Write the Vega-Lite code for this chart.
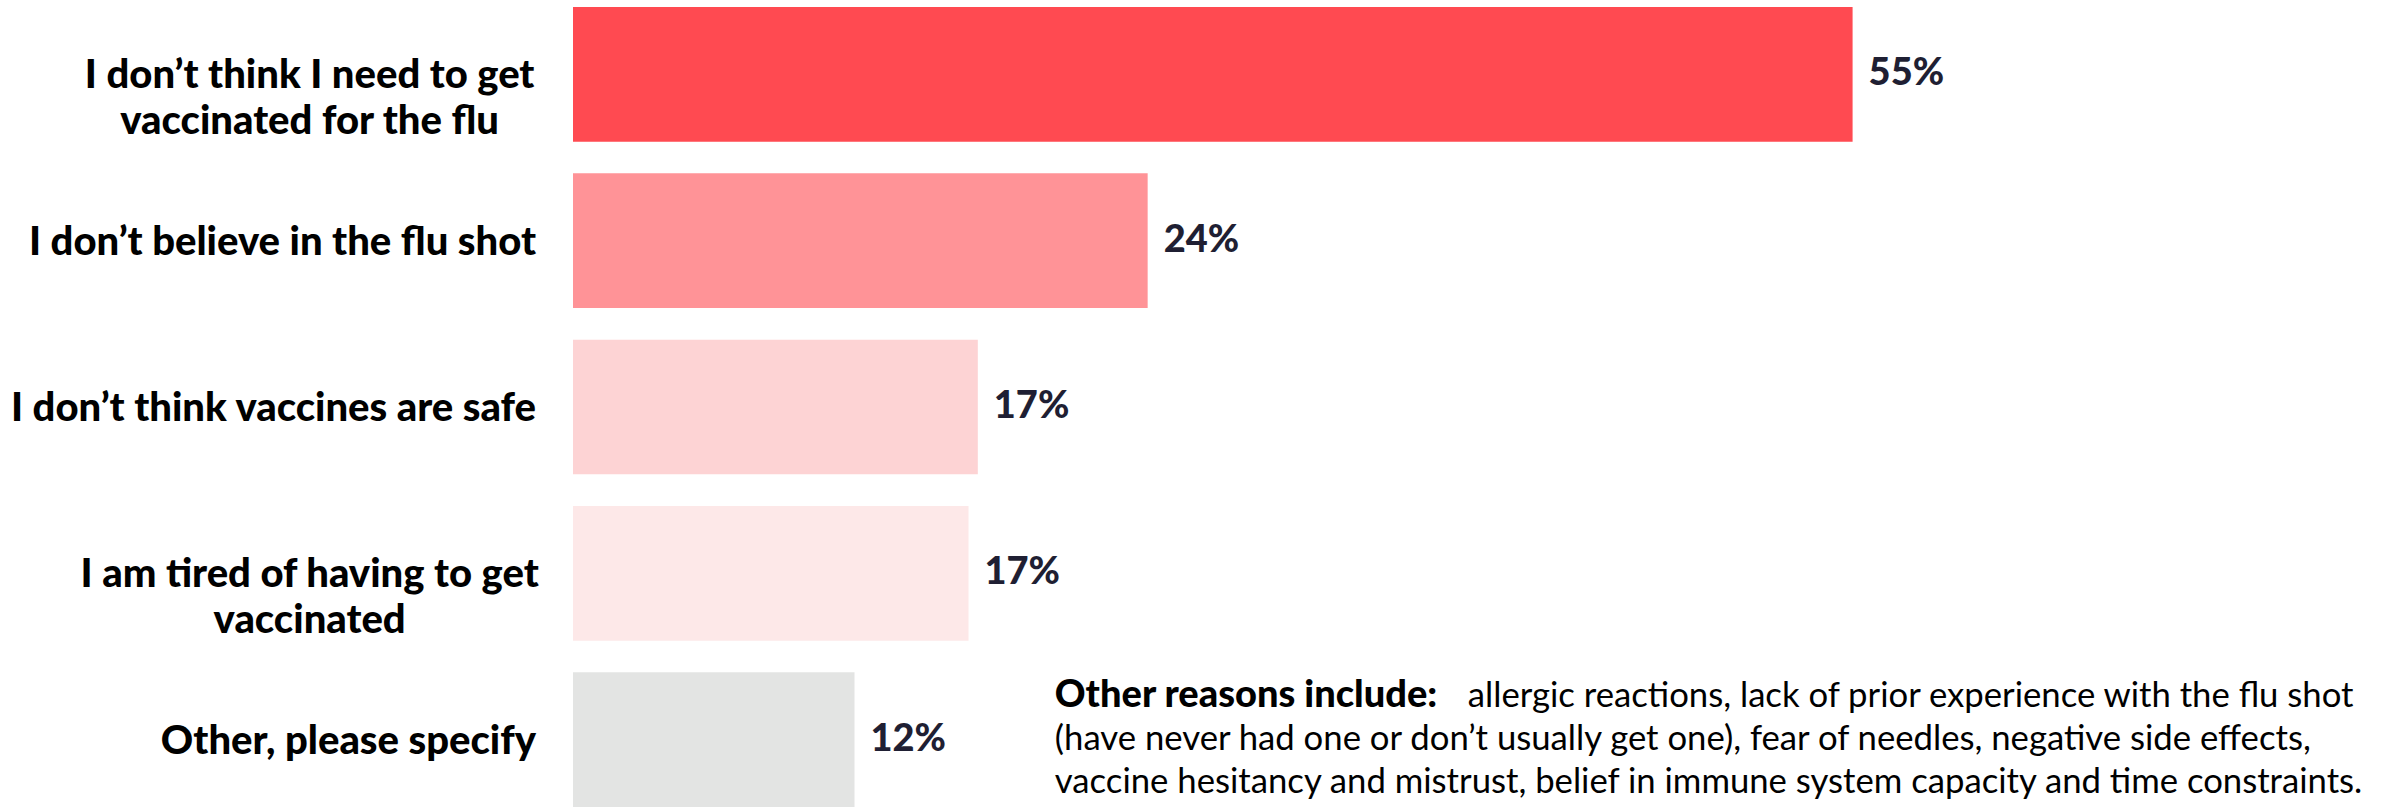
{
  "$schema": "https://vega.github.io/schema/vega-lite/v6.json",
  "width": 1824,
  "height": 800,
  "autosize": {"type": "none"},
  "padding": {"left": 573, "top": 7, "right": 0, "bottom": 0},
  "background": "white",
  "config": {"view": {"stroke": null}, "font": "Lato"},
  "data": {
    "values": [
      {"reason": "I don’t think I need to get vaccinated for the flu", "label": ["I don’t think I need to get", "vaccinated for the flu"], "value": 55, "pct": "55%"},
      {"reason": "I don’t believe in the flu shot", "label": "I don’t believe in the flu shot", "value": 24.7, "pct": "24%"},
      {"reason": "I don’t think vaccines are safe", "label": "I don’t think vaccines are safe", "value": 17.4, "pct": "17%"},
      {"reason": "I am tired of having to get vaccinated", "label": ["I am tired of having to get", "vaccinated"], "value": 17.0, "pct": "17%"},
      {"reason": "Other, please specify", "label": "Other, please specify", "value": 12.1, "pct": "12%"}
    ]
  },
  "encoding": {
    "y": {
      "field": "reason",
      "type": "nominal",
      "axis": null,
      "scale": {
        "domain": ["I don’t think I need to get vaccinated for the flu", "I don’t believe in the flu shot", "I don’t think vaccines are safe", "I am tired of having to get vaccinated", "Other, please specify"],
        "paddingInner": 0.19,
        "paddingOuter": 0
      }
    }
  },
  "layer": [
    {
      "mark": {"type": "bar"},
      "encoding": {
        "x": {"field": "value", "type": "quantitative", "axis": null, "scale": {"domain": [0, 78.4], "nice": false}},
        "color": {
          "field": "reason",
          "type": "nominal",
          "legend": null,
          "scale": {
            "domain": ["I don’t think I need to get vaccinated for the flu", "I don’t believe in the flu shot", "I don’t think vaccines are safe", "I am tired of having to get vaccinated", "Other, please specify"],
            "range": ["#FF4A51", "#FF9397", "#FDD3D4", "#FDE8E8", "#E3E4E3"]
          }
        }
      }
    },
    {
      "mark": {"type": "text", "align": "left", "baseline": "middle", "dx": 16, "fontSize": 38, "fontWeight": 900, "color": "#1f1f33"},
      "encoding": {
        "x": {"field": "value", "type": "quantitative"},
        "text": {"field": "pct", "type": "nominal"}
      }
    },
    {
      "transform": [{"filter": "!isArray(datum.label)"}],
      "mark": {"type": "text", "align": "right", "baseline": "middle", "dy": 2, "fontSize": 40, "fontWeight": 900, "color": "#000000"},
      "encoding": {
        "x": {"datum": -1.59},
        "text": {"field": "label", "type": "nominal"}
      }
    },
    {
      "transform": [{"filter": "isArray(datum.label)"}],
      "mark": {"type": "text", "align": "center", "baseline": "middle", "dy": 2, "lineHeight": 46, "fontSize": 40, "fontWeight": 900, "color": "#000000"},
      "encoding": {
        "x": {"datum": -11.32},
        "text": {"field": "label", "type": "nominal"}
      }
    },
    {
      "data": {"values": [{"note": "Other reasons include:"}]},
      "mark": {"type": "text", "align": "left", "baseline": "alphabetic", "dy": -33, "fontSize": 38, "fontWeight": 900, "color": "#000000"},
      "encoding": {
        "x": {"datum": 20.71},
        "y": {"datum": "Other, please specify"},
        "text": {"field": "note", "type": "nominal"}
      }
    },
    {
      "data": {"values": [{"note": "allergic reactions, lack of prior experience with the flu shot"}]},
      "mark": {"type": "text", "align": "left", "baseline": "alphabetic", "dy": -33, "fontSize": 34.7, "color": "#000000"},
      "encoding": {
        "x": {"datum": 38.46},
        "y": {"datum": "Other, please specify"},
        "text": {"field": "note", "type": "nominal"}
      }
    },
    {
      "data": {"values": [{"note": ["(have never had one or don’t usually get one), fear of needles, negative side effects,", "vaccine hesitancy and mistrust, belief in immune system capacity and time constraints."]}]},
      "mark": {"type": "text", "align": "left", "baseline": "alphabetic", "dy": 10, "lineHeight": 43, "fontSize": 34.7, "color": "#000000"},
      "encoding": {
        "x": {"datum": 20.71},
        "y": {"datum": "Other, please specify"},
        "text": {"field": "note", "type": "nominal"}
      }
    }
  ]
}
